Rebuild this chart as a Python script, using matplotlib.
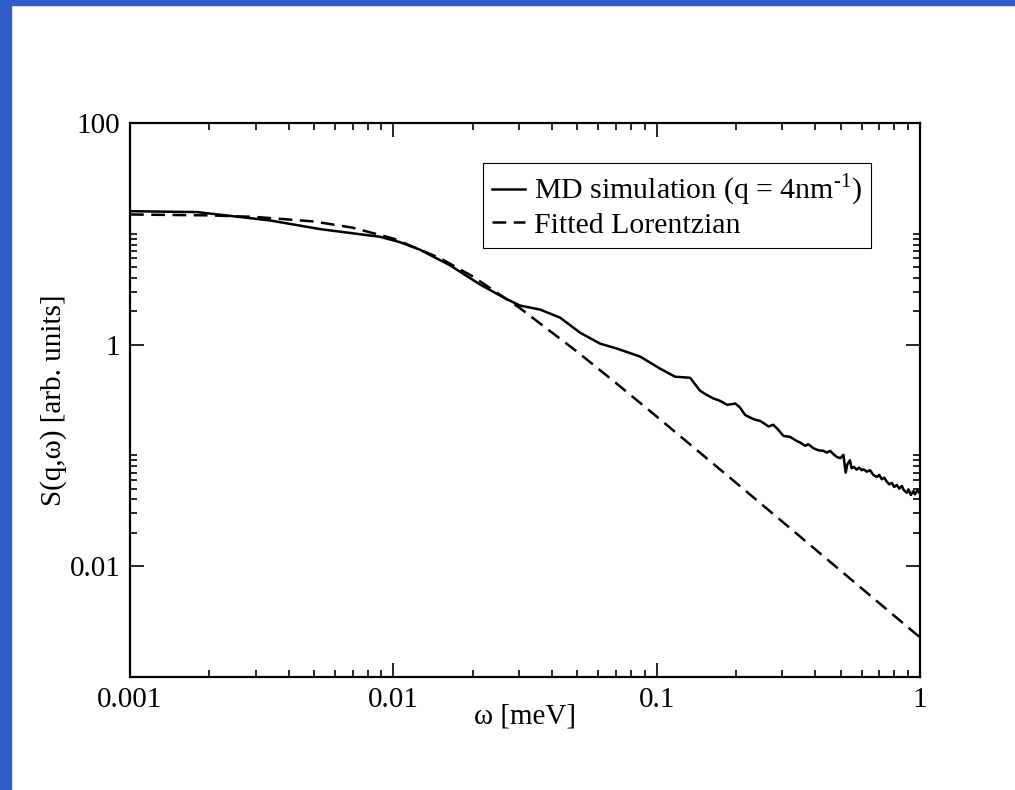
import matplotlib
matplotlib.use('Agg')
import matplotlib.pyplot as plt
from matplotlib.patches import Rectangle
from matplotlib.ticker import FixedLocator, NullFormatter

plt.rcParams['font.family'] = ['Liberation Serif', 'DejaVu Serif']
plt.rcParams['mathtext.fontset'] = 'custom'
plt.rcParams['mathtext.rm'] = 'Liberation Serif'

# MD simulation, S(q,w)
md_omega = [0.001, 0.0018, 0.0034, 0.0053, 0.0089, 0.0106, 0.0126, 0.0164, 0.0213,
            0.0266, 0.0303, 0.0361, 0.043, 0.0512, 0.061, 0.0707, 0.0865, 0.103,
            0.1175, 0.134,
            0.146, 0.155, 0.164, 0.174, 0.185, 0.193, 0.199, 0.207, 0.217, 0.226,
            0.237, 0.247, 0.258, 0.266, 0.277, 0.286, 0.303, 0.321, 0.340, 0.351,
            0.366, 0.377, 0.394, 0.411, 0.430, 0.443, 0.456, 0.469, 0.483, 0.498,
            0.512, 0.522, 0.530, 0.542, 0.550, 0.561, 0.575, 0.587, 0.601, 0.610,
            0.628, 0.646, 0.665, 0.685, 0.700, 0.716, 0.731, 0.748, 0.764, 0.782,
            0.798, 0.817, 0.834, 0.853, 0.869, 0.891, 0.904, 0.923, 0.944, 0.957,
            0.977, 1.0]
md_s = [16.0, 15.7, 13.2, 11.0, 9.4, 8.4, 7.2, 5.2, 3.5,
        2.61, 2.25, 2.07, 1.75, 1.28, 1.02, 0.92, 0.78, 0.607,
        0.513, 0.502,
        0.384, 0.351, 0.327, 0.311, 0.286, 0.290, 0.294, 0.271, 0.231, 0.220,
        0.2096, 0.205, 0.1915, 0.1824, 0.189, 0.176, 0.150, 0.147, 0.135, 0.1305,
        0.122, 0.126, 0.116, 0.1114, 0.1099, 0.106, 0.1099, 0.1026, 0.0969, 0.0944,
        0.1011, 0.0698, 0.0832, 0.0904, 0.0766, 0.0787, 0.0744, 0.0776, 0.0735, 0.0750,
        0.0713, 0.0735, 0.0667, 0.0639, 0.0667, 0.0609, 0.0630, 0.0579, 0.0548, 0.0564,
        0.0519, 0.0541, 0.0501, 0.0530, 0.0484, 0.0461, 0.0494, 0.0440, 0.0477, 0.0446,
        0.0484, 0.0451]

# fitted Lorentzian
fit_omega = [0.001, 0.002, 0.003, 0.005, 0.007, 0.01, 0.015, 0.02, 0.03, 0.05,
             0.07, 0.1, 0.2, 0.3, 0.5, 0.7, 1.0]
fit_s = [14.94, 14.66, 14.20, 12.91, 11.36, 9.06, 6.05, 4.13, 2.165, 0.859,
         0.4506, 0.2242, 0.05669, 0.02525, 0.009099, 0.004644, 0.002276]

x_ticks = [0.001, 0.01, 0.1, 1]
x_labels = ['0.001', '0.01', '0.1', '1']
y_ticks = [0.01, 1, 100]
y_labels = ['0.01', '1', '100']

fig = plt.figure(figsize=(10.15, 7.9), dpi=100)
# blue frame strips of the slide
fig.patches.append(Rectangle((0, 0), 11 / 1015, 1, transform=fig.transFigure,
                             color='#2f5ec6', zorder=0))
fig.patches.append(Rectangle((0, 1 - 5 / 790), 1, 5 / 790, transform=fig.transFigure,
                             color='#2f5ec6', zorder=0))

ax = fig.add_axes([130 / 1015, 1 - 677 / 790, 790 / 1015, 554 / 790])
ax.plot(md_omega, md_s, color='black', lw=1.8,
        label=r'MD simulation (q = 4nm$^{\mathregular{\text{-}1}}$)')
ax.plot(fit_omega, fit_s, color='black', lw=1.8, dashes=(5.5, 3), label='Fitted Lorentzian')

ax.set_xscale('log')
ax.set_yscale('log')
ax.set_xlim(0.001, 1)
ax.set_ylim(0.001, 100)

ax.xaxis.set_major_locator(FixedLocator(x_ticks))
ax.set_xticklabels(x_labels)
ax.xaxis.set_minor_locator(FixedLocator([m * d for d in [0.001, 0.01, 0.1] for m in range(2, 10)]))
ax.xaxis.set_minor_formatter(NullFormatter())
ax.yaxis.set_major_locator(FixedLocator(y_ticks))
ax.set_yticklabels(y_labels)
ax.yaxis.set_minor_locator(FixedLocator([m * d for d in [0.01, 1] for m in range(2, 11)]))
ax.yaxis.set_minor_formatter(NullFormatter())

ax.tick_params(which='both', direction='in', top=True, right=True, width=1.2, labelsize=21)
ax.tick_params(which='major', length=10, pad=7)
ax.tick_params(which='minor', length=5)
for s in ax.spines.values():
    s.set_linewidth(1.6)

ax.set_xlabel('ω [meV]', fontsize=21)
ax.set_ylabel('S(q,ω) [arb. units]', fontsize=21)
ax.xaxis.set_label_coords(0.5, -0.047)
ax.yaxis.set_label_coords(-0.080, 0.5)

leg = ax.legend(loc='upper right', bbox_to_anchor=(0.938, 0.928), borderaxespad=0,
                fontsize=21.5, fancybox=False, framealpha=1, handlelength=1.1,
                handletextpad=0.3, borderpad=0.3, labelspacing=0.12)
leg.get_frame().set_edgecolor('black')
leg.get_frame().set_linewidth(0.8)

fig.savefig('out.png', dpi=100)
